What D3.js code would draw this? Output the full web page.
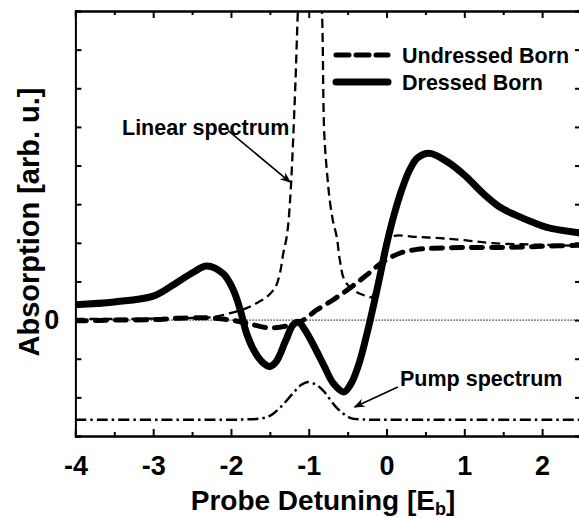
<!DOCTYPE html>
<html>
<head>
<meta charset="utf-8">
<script src="https://cdn.jsdelivr.net/npm/d3@7"></script>
<style>
  body { margin: 0; background: #fff; }
  svg { display: block; font-family: "Liberation Sans", Arial, sans-serif; font-weight: bold; }
</style>
</head>
<body>
<div id="chart"></div>
<script>
// values (x in E_b, y in arb. u.)
var dressedX = [-4, -3.5, -3, -2.75, -2.5, -2.31, -2.1, -1.97, -1.88, -1.8, -1.7, -1.6, -1.5, -1.42, -1.3, -1.2, -1.13, -1.05, -0.9, -0.8, -0.68, -0.55, -0.45, -0.35, -0.21, -0.1, 0.0, 0.1, 0.2, 0.3, 0.4, 0.55, 0.81, 1.03, 1.24, 1.46, 1.67, 1.88, 2.06, 2.5];
var dressedY = [0.4, 0.47, 0.62, 0.9, 1.22, 1.4, 1.2, 0.78, 0.26, -0.34, -0.8, -1.08, -1.2, -1.08, -0.55, -0.12, -0.06, -0.25, -0.8, -1.2, -1.65, -1.86, -1.62, -1.1, 0.0, 1.0, 1.95, 2.75, 3.4, 3.9, 4.2, 4.32, 4.06, 3.7, 3.28, 2.92, 2.71, 2.53, 2.4, 2.25];

var undressedX = [-4, -3.5, -3, -2.66, -2.3, -2.0, -1.8, -1.5, -1.24, -1.07, -0.9, -0.69, -0.47, -0.26, -0.05, 0.17, 0.39, 0.6, 1.0, 1.5, 2.0, 2.5];
var undressedY = [-0.02, 0.0, 0.01, 0.05, 0.06, 0.0, -0.08, -0.2, -0.13, 0.0, 0.26, 0.52, 0.83, 1.16, 1.5, 1.73, 1.83, 1.86, 1.88, 1.88, 1.91, 1.94];

var linearX = [-4, -3.5, -3, -2.6, -2.23, -2.01, -1.8, -1.67, -1.54, -1.43, -1.37, -1.33, -1.28, -1.24, -1.18, -1.14, -1.08, -1.0, -0.9, -0.83, -0.8, -0.76, -0.73, -0.69, -0.64, -0.6, -0.54, -0.43, -0.3, -0.19, -0.12, -0.06, 0.0, 0.1, 0.4, 0.69, 1.0, 1.36, 2.0, 2.5];
var linearY = [0.03, 0.03, 0.04, 0.05, 0.08, 0.18, 0.31, 0.44, 0.6, 0.85, 1.22, 1.7, 2.2, 3.1, 5.68, 8, 11, 13, 11, 8, 4.8, 3.7, 3.1, 2.58, 2.15, 1.55, 1.03, 0.78, 0.65, 0.6, 1.03, 1.63, 2.07, 2.18, 2.15, 2.12, 2.07, 1.99, 1.95, 1.92];

var pumpX = [-4, -2.5, -2, -1.8, -1.63, -1.5, -1.37, -1.2, -1.1, -1.01, -0.9, -0.82, -0.64, -0.47, -0.3, 0, 1, 2.5];
var pumpY = [-2.58, -2.58, -2.58, -2.57, -2.55, -2.48, -2.27, -1.89, -1.68, -1.6, -1.68, -1.81, -2.27, -2.53, -2.57, -2.58, -2.58, -2.58];

var xTicks = [-4, -3, -2, -1, 0, 1, 2];
var xMinor = [-3.5, -2.5, -1.5, -0.5, 0.5, 1.5];
var yTicks = [-3, -2, -1, 0, 1, 2, 3, 4, 5, 6, 7, 8];

(function() {
  var W = 579, H = 518;
  var pl = 75.4, pr = 581, pt = 11, pb = 436;

  var svg = d3.select("#chart").append("svg")
    .attr("width", W)
    .attr("height", H);

  var x = d3.scaleLinear().domain([-4, 2.5]).range([pl, pr]);
  var y = d3.scaleLinear().domain([-3, 8]).range([pb, pt]);

  var defs = svg.append("defs");
  defs.append("clipPath").attr("id", "clip")
    .append("rect")
    .attr("x", pl).attr("y", pt)
    .attr("width", pr - pl).attr("height", pb - pt);

  defs.append("marker")
    .attr("id", "arrow")
    .attr("viewBox", "0 0 10 10")
    .attr("refX", 9).attr("refY", 5)
    .attr("markerWidth", 11).attr("markerHeight", 11)
    .attr("markerUnits", "userSpaceOnUse")
    .attr("orient", "auto")
    .append("path")
    .attr("d", "M0,1 L10,5 L0,9 L3,5 Z")
    .attr("fill", "#000");

  var plot = svg.append("g").attr("clip-path", "url(#clip)");

  // zero line
  plot.append("line")
    .attr("x1", pl).attr("x2", pr)
    .attr("y1", y(0)).attr("y2", y(0))
    .attr("stroke", "#000").attr("stroke-width", 1)
    .attr("stroke-dasharray", "1.5,1.5");

  function series(xs, ys) {
    return xs.map(function(d, i) { return [d, ys[i]]; });
  }

  var line = d3.line()
    .x(function(d) { return x(d[0]); })
    .y(function(d) { return y(d[1]); })
    .curve(d3.curveCatmullRom.alpha(0.5));

  plot.append("path")
    .datum(series(pumpX, pumpY))
    .attr("d", line)
    .attr("fill", "none").attr("stroke", "#000")
    .attr("stroke-width", 2.5)
    .attr("stroke-dasharray", "11,4,2.5,4");

  plot.append("path")
    .datum(series(linearX, linearY))
    .attr("d", line)
    .attr("fill", "none").attr("stroke", "#000")
    .attr("stroke-width", 2.3)
    .attr("stroke-dasharray", "9,5");

  plot.append("path")
    .datum(series(undressedX, undressedY))
    .attr("d", line)
    .attr("fill", "none").attr("stroke", "#000")
    .attr("stroke-width", 5)
    .attr("stroke-linecap", "round")
    .attr("stroke-dasharray", "11,9");

  plot.append("path")
    .datum(series(dressedX, dressedY))
    .attr("d", line)
    .attr("fill", "none").attr("stroke", "#000")
    .attr("stroke-width", 7)
    .attr("stroke-linejoin", "round");

  // axes: ticks pointing inward on all four sides
  var fmt = function(d) { return String(d); };
  var frame = svg.append("g");
  frame.append("g")
    .attr("transform", "translate(0," + pb + ")")
    .call(d3.axisBottom(x).tickValues(xTicks).tickSize(-7).tickFormat(fmt).tickPadding(20));
  frame.append("g")
    .attr("transform", "translate(0," + pb + ")")
    .call(d3.axisBottom(x).tickValues(xMinor).tickSize(-4).tickFormat(""));
  frame.append("g")
    .attr("transform", "translate(0," + pt + ")")
    .call(d3.axisTop(x).tickValues(xTicks).tickSize(-7).tickFormat(""));
  frame.append("g")
    .attr("transform", "translate(0," + pt + ")")
    .call(d3.axisTop(x).tickValues(xMinor).tickSize(-4).tickFormat(""));
  frame.append("g")
    .attr("transform", "translate(" + pl + ",0)")
    .call(d3.axisLeft(y).tickValues(yTicks).tickSize(-6).tickPadding(16)
      .tickFormat(function(d) { return d === 0 ? "0" : ""; }));
  frame.append("g")
    .attr("transform", "translate(" + pr + ",0)")
    .call(d3.axisRight(y).tickValues(yTicks).tickSize(-6).tickFormat(""));

  frame.selectAll(".domain").attr("stroke", "#000").attr("stroke-width", 2);
  frame.selectAll(".tick line").attr("stroke", "#000").attr("stroke-width", 2);
  frame.selectAll(".tick text")
    .attr("fill", "#000")
    .style("font-family", "'Liberation Sans', Arial, sans-serif")
    .style("font-weight", "bold")
    .style("font-size", "27px");

  // axis titles
  var xt = svg.append("text")
    .attr("x", 323).attr("y", 510)
    .attr("text-anchor", "middle")
    .style("font-size", "28px");
  xt.append("tspan").text("Probe Detuning [E");
  xt.append("tspan").attr("dy", 5).style("font-size", "18px").text("b");
  xt.append("tspan").attr("dy", -5).text("]");

  svg.append("text")
    .attr("transform", "translate(39,222) rotate(-90)")
    .attr("text-anchor", "middle")
    .style("font-size", "29px")
    .text("Absorption [arb. u.]");

  // legend
  var legend = svg.append("g").style("font-size", "21.5px");
  legend.append("line")
    .attr("x1", 336).attr("x2", 388).attr("y1", 55).attr("y2", 55)
    .attr("stroke", "#000").attr("stroke-width", 5)
    .attr("stroke-linecap", "round").attr("stroke-dasharray", "13,7");
  legend.append("line")
    .attr("x1", 336).attr("x2", 388).attr("y1", 82).attr("y2", 82)
    .attr("stroke", "#000").attr("stroke-width", 7)
    .attr("stroke-linecap", "round");
  legend.append("text").attr("x", 402).attr("y", 63).text("Undressed Born");
  legend.append("text").attr("x", 402).attr("y", 90).text("Dressed Born");

  // annotations
  svg.append("text")
    .attr("x", 122).attr("y", 135)
    .style("font-size", "21.5px")
    .text("Linear spectrum");
  svg.append("line")
    .attr("x1", x(-2.04)).attr("y1", y(4.91))
    .attr("x2", x(-1.24)).attr("y2", y(3.57))
    .attr("stroke", "#000").attr("stroke-width", 1.6)
    .attr("marker-end", "url(#arrow)");

  svg.append("text")
    .attr("x", 400).attr("y", 386)
    .style("font-size", "21.5px")
    .text("Pump spectrum");
  svg.append("line")
    .attr("x1", x(0.145)).attr("y1", y(-1.73))
    .attr("x2", x(-0.41)).attr("y2", y(-2.25))
    .attr("stroke", "#000").attr("stroke-width", 1.6)
    .attr("marker-end", "url(#arrow)");
})();
</script>
</body>
</html>
